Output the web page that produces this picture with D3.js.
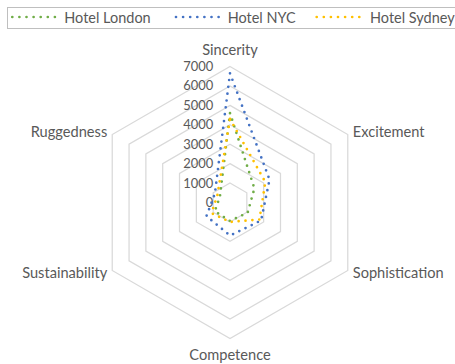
<!DOCTYPE html>
<html>
<head>
<meta charset="utf-8">
<script src="https://cdn.jsdelivr.net/npm/d3@7"></script>
<style>
  html, body { margin: 0; padding: 0; background: #fff; }
  svg { display: block; }
  text { font-family: Lato, "Liberation Sans", sans-serif; fill: #595959; }
</style>
</head>
<body>
<svg id="chart" width="455" height="364"></svg>
<script>
const categories = ["Sincerity", "Excitement", "Sophistication", "Competence", "Sustainability", "Ruggedness"];
const seriesNames = ["Hotel London", "Hotel NYC", "Hotel Sydney"];
const london = [4600, 1450, 1050, 950, 900, 600];
const nyc    = [6650, 2350, 1850, 1700, 1400, 900];
const sydney = [4300, 2100, 1750, 1000, 1100, 750];
const tickValues = [0, 1000, 2000, 3000, 4000, 5000, 6000, 7000];
const colors = ["#70AD47", "#4472C4", "#FFC000"];

const series = [london, nyc, sydney];
const svg = d3.select("#chart");
const cx = 230, cy = 202.5, R = 136;
const r = d3.scaleLinear().domain([0, 7000]).range([0, R]);
const angle = d3.scalePoint().domain(categories).range([0, 2 * Math.PI * 5 / 6]);
const pt = (cat, v) => {
  const a = angle(cat);
  return [cx + r(v) * Math.sin(a), cy - r(v) * Math.cos(a)];
};

// fit font size to a target width
function fitSize(text, target, base) {
  const t = svg.append("text").attr("font-size", 100).text(text);
  const w = t.node().getComputedTextLength();
  t.remove();
  return target / w * 100;
}

// grid rings
const ringLine = d3.line();
tickValues.filter(v => v > 0).forEach(v => {
  svg.append("path")
    .attr("d", ringLine(categories.map(c => pt(c, v))) + "Z")
    .attr("fill", "none")
    .attr("stroke", "#d9d9d9")
    .attr("stroke-width", 1.25);
});

// tick labels
const tickSize = fitSize("7000", 30);
svg.append("g").selectAll("text").data(tickValues).join("text")
  .attr("x", cx - 16.7)
  .attr("y", d => cy - r(d))
  .attr("dy", "0.35em")
  .attr("text-anchor", "end")
  .attr("font-size", tickSize)
  .text(d => d);

// series
const line = d3.line();
series.forEach((s, i) => {
  svg.append("path")
    .attr("d", line(categories.map((c, j) => pt(c, s[j]))) + "Z")
    .attr("fill", "none")
    .attr("stroke", colors[i])
    .attr("stroke-width", 2.7)
    .attr("stroke-linecap", "round")
    .attr("stroke-dasharray", "0 6.9");
});

// axis labels
const labSize = fitSize("Sincerity", 55.7);
categories.forEach(c => {
  const [x, y] = pt(c, 7000);
  const a = angle(c);
  const s = Math.sin(a), co = Math.cos(a);
  let ax, ay, anchor;
  if (Math.abs(s) < 0.01) {
    ax = x; ay = y + (co > 0 ? -16.5 : 16.5); anchor = "middle";
  } else {
    ax = x + (s > 0 ? 5 : -5);
    ay = y + (co > 0 ? -2.8 : 2.8);
    anchor = s > 0 ? "start" : "end";
  }
  svg.append("text")
    .attr("x", ax).attr("y", ay).attr("dy", "0.35em")
    .attr("text-anchor", anchor)
    .attr("font-size", labSize)
    .text(c);
});

// legend
svg.append("rect")
  .attr("x", 7.5).attr("y", 7.5).attr("width", 460).attr("height", 21)
  .attr("fill", "#fff").attr("stroke", "#bfbfbf").attr("stroke-width", 1);
const legSize = fitSize("Hotel London", 86.4);
const legX = [12.3, 176, 316.7];
const legTextX = [64.3, 227.7, 370];
seriesNames.forEach((n, i) => {
  svg.append("line")
    .attr("x1", legX[i]).attr("x2", legX[i] + 43)
    .attr("y1", 17).attr("y2", 17)
    .attr("stroke", colors[i])
    .attr("stroke-width", 2.7)
    .attr("stroke-linecap", "round")
    .attr("stroke-dasharray", "0 7.1");
  svg.append("text")
    .attr("x", legTextX[i]).attr("y", 17.5).attr("dy", "0.35em")
    .attr("font-size", legSize)
    .text(n);
});
</script>
</body>
</html>
